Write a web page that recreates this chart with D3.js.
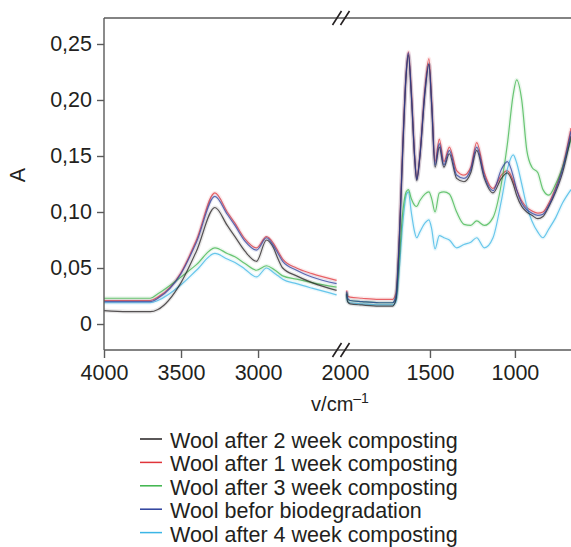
<!DOCTYPE html>
<html><head><meta charset="utf-8">
<script src="https://cdn.jsdelivr.net/npm/d3@7"></script>
<style>
body{margin:0;background:#fff;}
text{font-family:"Liberation Sans",Arial,sans-serif;fill:#231f20;}
</style></head><body>
<svg id="c" width="571" height="547"></svg>
<script>
// ---- data ----
const seriesNames = ["Wool after 2 week composting","Wool after 1 week composting","Wool after 3 week composting","Wool befor biodegradation","Wool after 4 week composting"];
const seriesColors = ["#231f20","#e0343a","#3cb44a","#2b3f9b","#3bb6e6"];
const yTicks = [0,0.05,0.10,0.15,0.20,0.25];
const xTicksLeft = [4000,3500,3000];
const xTicksRight = [2000,1500,1000];

const wnLeft = [4000,3850,3700,3650,3500,3400,3280,3200,3150,3085,3010,2945,2900,2870,2840,2750,2650,2490];
const leftBlack = [0.012,0.011,0.011,0.013,0.037,0.065,0.104,0.088,0.078,0.065,0.056,0.075,0.068,0.058,0.050,0.043,0.037,0.030];
const leftRed   = [0.021,0.021,0.021,0.024,0.046,0.075,0.117,0.100,0.090,0.076,0.068,0.078,0.072,0.065,0.058,0.050,0.045,0.039];
const leftGreen = [0.023,0.023,0.023,0.027,0.042,0.053,0.068,0.063,0.060,0.054,0.048,0.052,0.049,0.046,0.043,0.040,0.037,0.033];
const leftBlue  = [0.020,0.020,0.020,0.023,0.045,0.073,0.114,0.098,0.088,0.074,0.066,0.077,0.070,0.063,0.056,0.048,0.042,0.036];
const leftLight = [0.019,0.019,0.019,0.021,0.035,0.048,0.063,0.058,0.055,0.049,0.042,0.050,0.046,0.043,0.040,0.036,0.032,0.026];

const wnRight = [1990,1985,1970,1900,1800,1720,1700,1680,1660,1640,1627,1610,1590,1578,1560,1530,1506,1490,1470,1445,1418,1386,1343,1300,1260,1225,1180,1129,1080,1045,1010,990,960,930,900,865,835,800,760,720,670];
const rightBlack = [0.027,0.020,0.018,0.017,0.016,0.016,0.022,0.075,0.155,0.222,0.240,0.205,0.148,0.128,0.148,0.205,0.232,0.195,0.140,0.158,0.140,0.152,0.130,0.127,0.135,0.155,0.130,0.117,0.130,0.135,0.125,0.115,0.105,0.100,0.097,0.094,0.096,0.105,0.118,0.135,0.168];
const rightRed   = [0.030,0.025,0.024,0.023,0.022,0.022,0.028,0.080,0.160,0.225,0.243,0.210,0.150,0.130,0.150,0.210,0.237,0.200,0.145,0.165,0.145,0.158,0.137,0.133,0.140,0.162,0.135,0.121,0.133,0.137,0.128,0.120,0.110,0.104,0.101,0.099,0.100,0.108,0.122,0.140,0.175];
const rightGreen = [0.028,0.022,0.021,0.020,0.019,0.019,0.024,0.060,0.100,0.118,0.120,0.112,0.106,0.105,0.110,0.116,0.118,0.112,0.100,0.117,0.118,0.116,0.100,0.089,0.088,0.092,0.088,0.095,0.125,0.160,0.205,0.218,0.200,0.155,0.140,0.135,0.120,0.115,0.125,0.140,0.165];
const rightBlue  = [0.029,0.023,0.021,0.020,0.019,0.019,0.025,0.078,0.158,0.224,0.242,0.207,0.149,0.129,0.149,0.207,0.232,0.197,0.142,0.161,0.142,0.155,0.133,0.130,0.138,0.158,0.132,0.119,0.138,0.145,0.132,0.120,0.108,0.102,0.099,0.097,0.098,0.106,0.120,0.138,0.172];
const rightLight = [0.026,0.020,0.019,0.018,0.017,0.017,0.020,0.050,0.090,0.115,0.118,0.100,0.082,0.077,0.082,0.090,0.093,0.085,0.067,0.079,0.077,0.075,0.068,0.071,0.073,0.077,0.068,0.077,0.110,0.138,0.151,0.144,0.125,0.105,0.092,0.082,0.077,0.085,0.095,0.108,0.120];

const leftVals = [leftBlack,leftRed,leftGreen,leftBlue,leftLight];
const rightVals = [rightBlack,rightRed,rightGreen,rightBlue,rightLight];

// ---- layout ----
const svg = d3.select("#c");
const L = 104, T = 18, B = 350, R = 571, brk = 340;
const y = d3.scaleLinear().domain([-0.0232, 0.2732]).range([B, T]);
const xL = d3.scaleLinear().domain([4000, 2468]).range([L, brk]);
const xR = d3.scaleLinear().domain([2000, 670]).range([345, R]);

const drawOrder = [1,4,2,0,3];
const lineL = d3.line().x((d,i)=>xL(wnLeft[i])).y(d=>y(d)).curve(d3.curveMonotoneX);
const lineR = d3.line().x((d,i)=>xR(wnRight[i])).y(d=>y(d)).curve(d3.curveMonotoneX);
const gData = svg.append("g");
drawOrder.forEach(s=>{
  [[lineL,leftVals[s]],[lineR,rightVals[s]]].forEach(([ln,vals])=>{
    gData.append("path").attr("d",ln(vals)).attr("fill","none")
      .attr("stroke",seriesColors[s]).attr("stroke-width",4).attr("stroke-opacity",0.1);
    gData.append("path").attr("d",ln(vals)).attr("fill","none")
      .attr("stroke",seriesColors[s]).attr("stroke-width",1.2).attr("stroke-opacity",0.75);
  });
});

// ---- axes ----
const axCol = "#5a5a5a";
svg.append("line").attr("x1",L).attr("x2",R).attr("y1",T).attr("y2",T).attr("stroke",axCol).attr("stroke-width",1.4);
svg.append("line").attr("x1",L).attr("x2",R).attr("y1",B).attr("y2",B).attr("stroke",axCol).attr("stroke-width",1.4);
svg.append("line").attr("x1",L).attr("x2",L).attr("y1",T).attr("y2",B).attr("stroke",axCol).attr("stroke-width",1.4);

const fmt = d => d===0 ? "0" : d3.format(".2f")(d).replace(".",",");
const yAx = svg.append("g").attr("transform",`translate(${L},0)`)
  .call(d3.axisLeft(y).tickValues(yTicks).tickFormat(fmt).tickSize(7).tickPadding(5));
const xAxL = svg.append("g").attr("transform",`translate(0,${B})`)
  .call(d3.axisBottom(xL).tickValues(xTicksLeft).tickFormat(d3.format("d")).tickSize(8).tickPadding(7));
const xAxR = svg.append("g").attr("transform",`translate(0,${B})`)
  .call(d3.axisBottom(xR).tickValues(xTicksRight).tickFormat(d3.format("d")).tickSize(8).tickPadding(7));
xAxR.selectAll(".tick").filter(d=>d===2000).select("line").remove();
[yAx,xAxL,xAxR].forEach(g=>{
  g.select(".domain").remove();
  g.selectAll(".tick line").attr("stroke",axCol).attr("stroke-width",1.4);
  g.selectAll(".tick text").attr("font-size",21.5).attr("fill","#231f20")
    .attr("font-family","'Liberation Sans',Arial,sans-serif");
});

// break marks
[T,B].forEach(yy=>{
  [337,345].forEach(xx=>{
    svg.append("line").attr("x1",xx-4.5).attr("y1",yy+7).attr("x2",xx+4.5).attr("y2",yy-7)
      .attr("stroke","#231f20").attr("stroke-width",1.6);
  });
});

// axis titles
svg.append("text").attr("transform","translate(25,175) rotate(-90)").attr("text-anchor","middle")
  .attr("font-size",21.5).text("A");
const xt = svg.append("text").attr("x",340).attr("y",411).attr("text-anchor","middle").attr("font-size",20);
xt.append("tspan").text("v/cm");
xt.append("tspan").attr("dy",-8).attr("font-size",14).text("–1");

// legend
const lg = svg.append("g");
seriesNames.forEach((n,i)=>{
  const by = 448 + i*23.4;
  lg.append("line").attr("x1",140).attr("x2",162).attr("y1",by-9).attr("y2",by-9)
    .attr("stroke",seriesColors[i]).attr("stroke-width",1.5);
  lg.append("text").attr("x",170).attr("y",by).attr("font-size",21.5).text(n);
});
</script></body></html>
